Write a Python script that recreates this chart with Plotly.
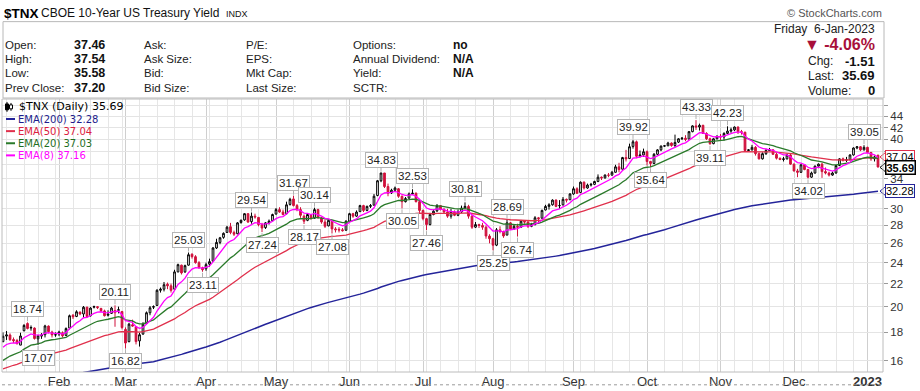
import numpy as np
import pandas as pd
import plotly.graph_objects as go

# ---------------- data ----------------
holidays = ["2022-01-17", "2022-02-21", "2022-04-15", "2022-05-30", "2022-06-20",
            "2022-07-04", "2022-09-05", "2022-11-24", "2022-12-26", "2023-01-02"]
first_day = "2022-01-07"
last_day = "2023-01-06"
prev_close_before_first = 17.25

opens = [
    # Jan 2022
    17.30, 17.70, 17.78, 17.45, 17.38, 17.05, 18.10, 18.65, 18.30, 18.30, 17.50, 17.70, 17.80, 18.45, 18.00, 17.80,
    # Feb
    17.85, 17.95, 17.75, 18.30, 19.30, 19.20, 19.55, 19.40, 19.95, 19.25, 19.95, 20.00, 19.85, 19.65, 19.30, 19.45, 19.50, 19.70, 19.60,
    # Mar
    18.20, 17.30, 18.55, 18.40, 17.35, 17.85, 18.65, 19.50, 19.95, 20.10, 21.40, 21.50, 21.95, 21.80, 21.50, 23.10, 23.75, 23.10, 23.75, 24.85, 24.60, 24.00, 23.50,
    # Apr
    23.40, 23.85, 24.15, 25.50, 26.10, 26.65, 27.20, 27.85, 27.20, 27.05, 28.35, 28.65, 29.40, 28.45, 29.10, 28.95, 28.10, 27.75, 28.30, 28.55,
    # May
    29.35, 29.90, 29.60, 29.40, 30.55, 31.25, 30.40, 29.90, 29.10, 28.60, 29.20, 28.85, 29.90, 28.90, 28.40, 27.95, 28.50, 27.60, 27.55, 27.50, 27.45,
    # Jun
    28.50, 29.40, 29.10, 29.65, 30.40, 29.80, 30.30, 30.45, 31.70, 33.70, 34.80, 32.90, 32.05, 32.40, 32.60, 31.60, 30.90, 31.35, 31.90, 32.00, 30.90,
    # Jul
    29.80, 28.80, 28.10, 29.30, 29.75, 30.40, 29.90, 29.60, 29.10, 29.60, 29.20, 29.60, 30.10, 30.30, 29.10, 27.80, 28.10, 28.00, 27.80, 26.80,
    # Aug
    26.50, 25.80, 27.50, 27.30, 26.90, 28.30, 27.60, 27.90, 27.80, 28.50, 28.40, 27.90, 28.10, 28.90, 28.85, 29.85, 30.30, 30.50, 31.10, 30.40, 30.50, 31.20, 31.15,
    # Sep
    31.90, 32.60, 32.10, 33.50, 32.70, 33.10, 33.20, 33.60, 34.20, 34.10, 34.50, 34.50, 34.90, 35.70, 35.35, 37.10, 36.95, 38.85, 39.60, 37.30, 37.50,
    # Oct
    38.00, 36.50, 36.20, 37.60, 38.30, 38.90, 38.95, 39.40, 39.00, 39.55, 40.10, 40.20, 40.05, 41.30, 42.30, 42.10, 42.40, 41.00, 40.10, 39.30, 40.10,
    # Nov
    40.50, 40.40, 41.00, 41.40, 41.60, 42.10, 41.30, 41.20, 38.20, 38.30, 38.70, 37.70, 36.90, 37.70, 38.20, 38.30, 37.60, 37.00, 36.80, 36.90, 37.50,
    # Dec
    36.10, 35.10, 34.90, 36.00, 35.30, 34.20, 34.80, 35.80, 36.10, 35.00, 34.80, 34.50, 34.80, 35.90, 36.90, 36.70, 36.75, 37.50, 38.60, 38.80, 38.30,
    # Jan 2023
    38.70, 37.90, 36.90, 37.46,
]
highs = [
    17.97, 18.08, 17.90, 17.60, 17.50, 17.95, 18.60, 18.74, 18.50, 18.35, 17.80, 17.92, 18.55, 18.50, 18.10, 17.98,
    18.10, 18.05, 18.35, 19.35, 19.40, 19.70, 19.60, 20.05, 20.00, 19.95, 20.08, 20.05, 19.90, 19.75, 19.70, 19.98, 20.11, 20.00, 19.65,
    18.35, 18.70, 18.95, 18.45, 17.95, 18.75, 19.60, 20.05, 20.10, 21.50, 21.65, 22.15, 22.10, 22.00, 23.30, 23.90, 23.80, 23.80, 25.03, 24.95, 24.75, 24.15, 23.60,
    24.00, 24.40, 25.60, 26.50, 26.70, 27.20, 27.95, 28.30, 27.40, 28.40, 28.70, 29.45, 29.45, 29.54, 29.40, 29.00, 28.30, 28.40, 28.70, 29.40,
    30.10, 30.20, 29.90, 30.90, 31.40, 31.67, 30.60, 30.20, 29.30, 29.40, 29.30, 30.14, 30.00, 29.00, 28.70, 28.70, 28.60, 27.80, 27.80, 27.70, 28.60,
    29.50, 29.50, 29.80, 30.50, 30.50, 30.40, 30.60, 31.90, 33.80, 34.83, 34.80, 33.30, 32.60, 32.90, 32.70, 31.70, 31.50, 32.10, 32.53, 32.10, 31.00,
    29.90, 28.90, 29.50, 29.90, 30.60, 30.45, 30.10, 30.00, 30.00, 29.80, 29.90, 30.40, 30.81, 30.50, 29.20, 28.40, 28.20, 28.30, 28.00, 27.00,
    26.60, 27.70, 27.90, 27.40, 28.69, 28.40, 28.10, 28.20, 28.65, 28.60, 28.50, 28.30, 29.10, 29.00, 29.90, 30.50, 30.70, 31.20, 31.20, 31.10, 31.50, 31.30, 32.00,
    32.90, 32.80, 33.60, 33.60, 33.30, 33.40, 33.70, 34.60, 34.30, 34.60, 34.80, 35.10, 36.00, 36.30, 37.20, 38.30, 39.30, 39.92, 39.80, 38.20, 38.50,
    38.20, 36.60, 37.80, 38.40, 39.00, 39.05, 39.60, 39.50, 40.80, 40.20, 40.40, 40.70, 41.40, 42.40, 43.33, 42.70, 42.50, 41.20, 40.30, 40.20, 40.70,
    40.90, 41.20, 42.23, 42.00, 42.20, 42.20, 41.60, 41.30, 38.40, 39.10, 38.90, 37.90, 37.90, 38.50, 38.60, 38.40, 37.80, 37.10, 37.20, 37.70, 37.80,
    36.20, 35.40, 36.10, 36.10, 35.40, 35.00, 35.90, 36.20, 36.30, 35.60, 35.00, 35.00, 36.00, 37.00, 37.10, 37.20, 37.60, 38.70, 38.90, 38.90, 39.05,
    38.80, 37.95, 37.40, 37.54,
]
lows = [
    17.25, 17.42, 17.35, 17.20, 17.10, 17.05, 18.05, 18.20, 18.10, 17.45, 17.07, 17.50, 17.60, 17.90, 17.60, 17.65,
    17.70, 17.60, 17.70, 18.20, 19.00, 19.15, 19.30, 19.10, 19.10, 19.20, 19.85, 19.80, 19.55, 19.20, 19.20, 19.40, 18.40, 19.45, 18.20,
    16.82, 17.25, 18.40, 17.10, 16.95, 17.80, 18.60, 19.30, 19.80, 20.05, 21.20, 21.30, 21.50, 21.20, 21.45, 23.05, 22.85, 23.00, 23.70, 24.40, 23.90, 23.40, 23.11,
    23.20, 23.60, 24.10, 25.40, 25.90, 26.50, 27.15, 27.00, 26.80, 27.00, 28.20, 28.55, 28.30, 28.20, 28.80, 27.90, 27.24, 27.60, 28.10, 28.50,
    29.30, 29.50, 29.20, 29.30, 30.40, 30.30, 29.70, 28.90, 28.17, 28.50, 28.70, 28.80, 28.80, 28.20, 27.70, 27.90, 27.08, 27.20, 27.20, 27.30, 27.40,
    28.40, 28.90, 29.00, 29.60, 29.60, 29.70, 30.10, 30.40, 31.60, 33.50, 32.70, 31.60, 31.90, 32.20, 31.40, 30.05, 30.80, 31.30, 31.80, 30.80, 29.50,
    28.60, 27.46, 28.00, 29.20, 29.60, 29.80, 29.40, 28.90, 28.80, 29.10, 29.10, 29.50, 30.00, 28.80, 27.60, 27.70, 27.70, 27.50, 26.50, 26.00,
    25.25, 25.70, 27.10, 26.60, 26.90, 27.50, 27.50, 26.74, 27.70, 28.20, 27.70, 27.80, 28.00, 28.40, 28.80, 29.80, 29.90, 30.40, 30.20, 30.00, 30.40, 30.80, 31.10,
    31.80, 31.90, 32.00, 32.50, 32.60, 32.90, 33.10, 33.50, 33.80, 34.00, 34.20, 34.40, 34.85, 34.90, 35.30, 36.50, 36.90, 38.50, 37.00, 37.10, 37.20,
    35.90, 35.64, 36.10, 37.50, 38.10, 38.80, 38.90, 38.80, 38.70, 39.40, 39.90, 39.70, 40.00, 41.20, 41.60, 41.50, 40.90, 39.90, 39.11, 39.20, 40.00,
    39.90, 39.80, 40.90, 41.10, 41.40, 40.90, 40.80, 38.10, 38.10, 38.20, 37.40, 36.80, 36.80, 37.50, 38.10, 37.50, 36.80, 36.70, 36.50, 36.80, 36.00,
    35.00, 34.20, 34.80, 35.20, 34.02, 34.10, 34.70, 35.50, 34.10, 34.60, 34.30, 34.40, 34.70, 35.80, 36.50, 36.40, 36.70, 37.40, 38.40, 38.10, 38.20,
    37.80, 36.60, 36.50, 35.58,
]
closes = [
    17.69, 17.79, 17.44, 17.36, 17.15, 17.71, 18.50, 18.27, 18.34, 17.52, 17.71, 17.78, 18.46, 18.03, 17.79, 17.79,
    18.00, 17.72, 18.26, 19.26, 19.17, 19.58, 19.40, 19.95, 19.20, 19.88, 20.00, 19.92, 19.67, 19.26, 19.39, 19.88, 19.68, 19.74, 18.34,
    17.20, 18.60, 18.45, 17.30, 17.80, 18.60, 19.50, 19.90, 20.00, 21.40, 21.50, 21.90, 21.80, 21.40, 23.10, 23.80, 23.00, 23.70, 24.80, 24.60, 24.00, 23.50, 23.30,
    23.80, 24.10, 25.50, 26.10, 26.60, 27.10, 27.80, 27.20, 27.00, 28.30, 28.60, 29.40, 28.40, 29.10, 29.00, 28.10, 27.70, 28.30, 28.50, 29.30,
    29.90, 29.60, 29.30, 30.50, 31.20, 30.40, 29.90, 29.20, 28.50, 29.30, 28.80, 29.90, 28.90, 28.40, 27.90, 28.60, 27.60, 27.50, 27.48, 27.40, 28.50,
    29.40, 29.10, 29.60, 30.40, 29.80, 30.30, 30.40, 31.60, 33.70, 34.80, 32.90, 32.00, 32.40, 32.70, 31.60, 30.90, 31.30, 31.90, 32.00, 30.90, 29.80,
    28.80, 28.10, 29.30, 29.70, 30.40, 29.90, 29.60, 29.10, 29.60, 29.20, 29.60, 30.10, 30.30, 29.10, 27.80, 28.10, 28.00, 27.80, 26.80, 26.50,
    25.80, 27.50, 27.30, 26.80, 28.30, 27.60, 27.90, 27.80, 28.50, 28.40, 27.90, 28.10, 28.90, 28.80, 29.80, 30.30, 30.50, 31.10, 30.30, 30.40, 31.20, 31.10, 31.90,
    32.60, 32.00, 33.50, 32.70, 33.10, 33.20, 33.60, 34.20, 34.10, 34.50, 34.48, 34.90, 35.70, 35.30, 37.10, 36.90, 38.80, 39.60, 37.30, 37.50, 38.00,
    36.50, 36.20, 37.60, 38.30, 38.90, 38.95, 39.40, 39.00, 39.50, 40.10, 40.20, 40.00, 41.30, 42.30, 42.10, 42.40, 41.00, 40.10, 39.30, 40.10, 40.50,
    40.40, 41.00, 41.40, 41.60, 42.10, 41.30, 41.20, 38.20, 38.30, 38.70, 37.70, 36.90, 37.70, 38.20, 38.30, 37.60, 37.00, 36.80, 36.90, 37.50, 36.10,
    35.10, 34.90, 36.00, 35.30, 34.20, 34.80, 35.80, 36.10, 35.00, 34.80, 34.50, 34.80, 35.90, 36.90, 36.70, 36.75, 37.50, 38.60, 38.80, 38.30, 38.70,
    37.90, 36.90, 37.20, 35.69,
]

ema_periods = [200, 50, 20, 8]
ema_seeds = [14.40, 15.36, 15.83, 16.67]          # EMA values on the session before the first candle
ema_last_shown = ["32.28", "37.04", "37.03", "37.16"]
ema_colors = ["#24249a", "#e0304c", "#2a7a2a", "#ff00ff"]
ema_text_colors = ["#1c1c8c", "#dc2040", "#1f6f1f", "#ff00ff"]

month_labels = ["Feb", "Mar", "Apr", "May", "Jun", "Jul", "Aug", "Sep", "Oct", "Nov", "Dec", "<b>2023</b>"]
y_ticks = [16, 18, 20, 22, 24, 26, 28, 30, 32, 34, 36, 38, 40, 42, 44, 46]
y_tick_text = ["16", "18", "20", "22", "24", "26", "28", "30", "", "34", "", "", "40", "42", "44", ""]

swing_dates = ["2022-01-19", "2022-01-24", "2022-02-24", "2022-03-01", "2022-03-25", "2022-03-31",
               "2022-04-21", "2022-04-26", "2022-05-09", "2022-05-12", "2022-05-17", "2022-05-24",
               "2022-06-14", "2022-06-23", "2022-06-28", "2022-07-05", "2022-07-20", "2022-08-01",
               "2022-08-05", "2022-08-10", "2022-09-27", "2022-10-04", "2022-10-21", "2022-10-27",
               "2022-11-03", "2022-12-07", "2022-12-30"]
swing_kinds = ["H", "L", "H", "L", "H", "L", "H", "L", "H", "L", "H", "L", "H", "L", "H", "L", "H", "L",
               "H", "L", "H", "L", "H", "L", "H", "L", "H"]

quote_labels = [["Open:", "High:", "Low:", "Prev Close:"],
                ["Ask:", "Ask Size:", "Bid:", "Bid Size:"],
                ["P/E:", "EPS:", "Mkt Cap:", "Last Size:"],
                ["Options:", "Annual Dividend:", "Yield:", "SCTR:"]]
quote_extra_values = ["no", "N/A", "N/A", ""]
volume_last = 0

# ---------------- derived ----------------
dates = pd.bdate_range(first_day, last_day, freq="C", holidays=holidays)
N = len(dates)
assert N == len(opens) == len(highs) == len(lows) == len(closes), (N, len(opens), len(highs), len(lows), len(closes))
idx = np.arange(N)
o = np.array(opens); h = np.array(highs); l = np.array(lows); c = np.array(closes)
prev = np.concatenate([[prev_close_before_first], c[:-1]])
up_day = c >= prev


def ema(values, period, seed):
    a = 2.0 / (period + 1)
    out, e = [], seed
    for v in values:
        e = e + a * (v - e)
        out.append(e)
    return np.array(out)


emas = [ema(closes, p, s) for p, s in zip(ema_periods, ema_seeds)]

month_starts = [i for i in range(1, N) if dates[i].month != dates[i - 1].month]
week_starts = []
for i in range(1, N):
    if (dates[i] - pd.Timedelta(days=dates[i].weekday())) != (dates[i - 1] - pd.Timedelta(days=dates[i - 1].weekday())):
        if i not in month_starts:
            week_starts.append(i)

# ---------------- geometry helpers ----------------
W, H = 920, 391
PL, PR, PT, PB = 2, 883, 99, 376
Y_BOT, Y_TOP = 1.18336, 1.67476
X_LO, X_HI = -0.29, 251.43


def fx(px):
    return (px - PL) / (PR - PL)


def fy(py):
    return (PB - py) / (PB - PT)


def val_to_py(v):
    return PT + (Y_TOP - np.log10(v)) / (Y_TOP - Y_BOT) * (PB - PT)


FONT_UI = "Liberation Sans, Arial, sans-serif"
FONT_V = "DejaVu Sans, Verdana, sans-serif"
FONT_N = "Liberation Sans Narrow, Arial Narrow, Liberation Sans, sans-serif"
RED = "#d0103c"

fig = go.Figure()

# EMA lines
for e, col, p in zip(emas, ema_colors, ema_periods):
    fig.add_trace(go.Scatter(x=idx, y=e, mode="lines", line=dict(color=col, width=1.3 if p != 200 else 1.5),
                             hoverinfo="skip"))

# candles: black = close >= previous close, red = close < previous close
for mask, col in ((up_day, "#000000"), (~up_day, RED)):
    fig.add_trace(go.Candlestick(
        x=idx[mask], open=o[mask], high=h[mask], low=l[mask], close=c[mask],
        increasing=dict(line=dict(color=col, width=1), fillcolor="#ffffff"),
        decreasing=dict(line=dict(color=col, width=1), fillcolor=col),
        whiskerwidth=0, hoverinfo="skip"))

annotations = []
shapes = []

# swing labels
date_pos = {d.strftime("%Y-%m-%d"): i for i, d in enumerate(dates)}
for d, k in zip(swing_dates, swing_kinds):
    i = date_pos[d]
    v = highs[i] if k == "H" else lows[i]
    annotations.append(dict(
        x=i, y=np.log10(v), xref="x", yref="y", text=f"{v:.2f}",
        showarrow=True, ax=0, ay=-13 if k == "H" else 13, arrowhead=0, arrowwidth=1,
        arrowcolor="#b0b0b0", standoff=1, bgcolor="#ffffff", bordercolor="#b4b4b4",
        borderwidth=1, borderpad=1, font=dict(family=FONT_N, size=11.5, color="#222222")))

# right-side value tags (with left-pointing notch)
tags = [(float(ema_last_shown[1]), ema_last_shown[1], ema_colors[1], False, -1.0),
        (closes[-1], f"{closes[-1]:.2f}", "#000000", True, 0.5),
        (float(ema_last_shown[0]), ema_last_shown[0], ema_colors[0], False, 0)]
for v, txt, col, bold, shift in tags:
    yc = val_to_py(v) + shift
    shapes.append(dict(type="path", xref="paper", yref="paper",
                       path=f"M {fx(880)},{fy(yc)} L {fx(885.5)},{fy(yc - 4.5)} L {fx(885.5)},{fy(yc + 4.5)} Z",
                       line=dict(color=col, width=1), fillcolor="#ffffff", layer="above"))
    annotations.append(dict(
        x=fx(885), xref="paper", xanchor="left", y=fy(yc), yref="paper", yanchor="middle",
        text=f"<b>{txt}</b>" if bold else txt, showarrow=False, bgcolor="#ffffff",
        bordercolor=col, borderwidth=1.5 if bold else 1, borderpad=0,
        font=dict(family=FONT_N, size=11, color="#000000")))

# legend inside chart
legend_y = [107, 119.3, 131.6, 143.9, 156.2]
annotations.append(dict(x=fx(17), y=fy(legend_y[0]), xref="paper", yref="paper", xanchor="left",
                        yanchor="middle", showarrow=False,
                        text=f"$TNX (Daily) {closes[-1]:.2f}",
                        font=dict(family=FONT_V, size=11, color="#000000")))
shapes.append(dict(type="line", xref="paper", yref="paper", x0=fx(7), x1=fx(7), y0=fy(102), y1=fy(112),
                   line=dict(color="#000000", width=1)))
shapes.append(dict(type="rect", xref="paper", yref="paper", x0=fx(5.5), x1=fx(8.5), y0=fy(104), y1=fy(110),
                   line=dict(color="#000000", width=1), fillcolor="#000000"))
shapes.append(dict(type="line", xref="paper", yref="paper", x0=fx(11), x1=fx(11), y0=fy(103), y1=fy(111),
                   line=dict(color="#000000", width=1)))
shapes.append(dict(type="rect", xref="paper", yref="paper", x0=fx(9.5), x1=fx(12.5), y0=fy(105), y1=fy(109),
                   line=dict(color="#000000", width=1), fillcolor="#ffffff"))
for k, (p, col, tcol, lab) in enumerate(zip(ema_periods, ema_colors, ema_text_colors, ema_last_shown)):
    yy = legend_y[k + 1]
    shapes.append(dict(type="line", xref="paper", yref="paper", x0=fx(6), x1=fx(15), y0=fy(yy), y1=fy(yy),
                       line=dict(color=col, width=2)))
    annotations.append(dict(x=fx(15.5), y=fy(yy), xref="paper", yref="paper", xanchor="left", yanchor="middle",
                            showarrow=False, text=f"EMA({p}) {lab}",
                            font=dict(family=FONT_V, size=10, color=tcol)))

# ---------------- header ----------------
def hdr(px, py, text, size=11.5, color="#222222", anchor="left", family=FONT_UI):
    annotations.append(dict(x=fx(px), y=fy(py), xref="paper", yref="paper", xanchor=anchor, yanchor="middle",
                            showarrow=False, text=text, borderpad=0,
                            font=dict(family=family, size=size, color=color)))


hdr(3, 12, "<b>$TNX</b>", size=13.5, color="#000000")
hdr(40, 12, "CBOE 10-Year US Treasury Yield", size=12, color="#111111")
hdr(225, 13, "INDX", size=9, color="#111111")
hdr(883, 12, "© StockCharts.com", size=11, color="#555555", anchor="right")
shapes.append(dict(type="rect", xref="paper", yref="paper", x0=fx(3), x1=fx(884), y0=fy(20.5), y1=fy(98),
                   line=dict(color="#b8b8b8", width=1)))

row_y = [44, 58.5, 73, 87.5]
col_x = [4, 143, 245, 352]
main_vals = [f"{opens[-1]:.2f}", f"{highs[-1]:.2f}", f"{lows[-1]:.2f}", f"{closes[-2]:.2f}"]
for ci, labels in enumerate(quote_labels):
    for ri, lab in enumerate(labels):
        hdr(col_x[ci], row_y[ri], lab)
for ri, v in enumerate(main_vals):
    hdr(73, row_y[ri], f"<b>{v}</b>", size=12.5, color="#111111")
for ri, v in enumerate(quote_extra_values):
    if v:
        hdr(452, row_y[ri], f"<b>{v}</b>", size=12, color="#111111")

chg = closes[-1] - closes[-2]
pct = chg / closes[-2] * 100
d_last = dates[-1]
hdr(876, 28, f"{d_last.strftime('%A')}  {d_last.day}-{d_last.strftime('%b-%Y')}", size=12, anchor="right")
hdr(876, 43.5, f"<b>▼ {pct:.2f}%</b>", size=16, color="#a8103a", anchor="right")
right_rows = [(60.5, "Chg:", f"{chg:.2f}"), (75.5, "Last:", f"{closes[-1]:.2f}"), (90.5, "Volume:", f"{volume_last}")]
for yy, lab, val in right_rows:
    hdr(807, yy, lab, size=12)
    hdr(876, yy, f"<b>{val}</b>", size=13, color="#111111", anchor="right")

# chart frame + bottom dotted line
shapes.append(dict(type="rect", xref="paper", yref="paper", x0=0, x1=1, y0=0, y1=1,
                   line=dict(color="#bcbcbc", width=1), layer="above"))
shapes.append(dict(type="line", xref="paper", yref="paper", x0=fx(2), x1=fx(883), y0=fy(389), y1=fy(389),
                   line=dict(color="#9a9a9a", width=1, dash="dot")))

fig.update_layout(
    width=W, height=H, autosize=False,
    margin=dict(l=PL, r=W - PR, t=PT, b=H - PB, pad=0),
    paper_bgcolor="#ffffff", plot_bgcolor="#ffffff",
    showlegend=False,
    annotations=annotations, shapes=shapes,
    xaxis=dict(range=[X_LO, X_HI], tickmode="array", tickvals=month_starts, ticktext=month_labels,
               showgrid=True, gridcolor="#cfcfcf", gridwidth=1, zeroline=False, showline=False,
               ticks="", tickfont=dict(family=FONT_N, size=13, color="#333333"),
               rangeslider=dict(visible=False),
               minor=dict(tickmode="array", tickvals=week_starts, showgrid=True, gridcolor="#e6e6e6",
                          ticks="")),
    yaxis=dict(type="log", side="right", range=[Y_BOT, Y_TOP], tickmode="array", tickvals=y_ticks,
               ticktext=y_tick_text,
               showgrid=True, gridcolor="#e4e4e4", zeroline=False, showline=False,
               ticks="outside", ticklen=4, tickcolor="#9a9a9a",
               tickfont=dict(family=FONT_N, size=11.5, color="#333333")),
)

fig.write_html("out.html", config={"displayModeBar": False},
               post_script="document.body.style.margin='0px';document.body.style.overflow='hidden';")
